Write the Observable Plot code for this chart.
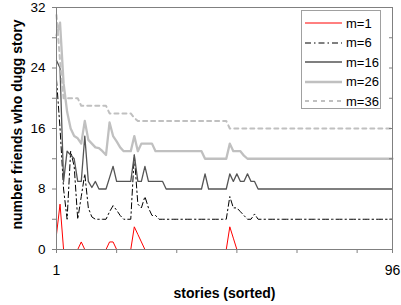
<!DOCTYPE html>
<html>
<head>
<meta charset="utf-8">
<script src="https://cdn.jsdelivr.net/npm/d3@7"></script>
<script src="https://cdn.jsdelivr.net/npm/@observablehq/plot@0.6"></script>
<style>
  body { margin: 0; background: white; }
  #wrap { position: relative; width: 401px; height: 305px; font-family: "Liberation Sans", Arial, sans-serif; }
  #legend { position: absolute; left: 301px; top: 10px; width: 80px; height: 99px; background: white; border: 1px solid #a0a0a0; box-sizing: border-box; }
  #legend .row { position: absolute; left: 3px; height: 14px; display: flex; align-items: center; font-size: 13px; }
  #legend svg { margin-right: 4px; }
</style>
</head>
<body>
<div id="wrap"></div>
<script>
// stories (x categories)
const stories = d3.range(1, 97);
const xTicks = [1, 18, 35, 52, 69, 86, 96];
const xTickLabels = [1, 96];
const yTicks = [0, 4, 8, 12, 16, 20, 24, 28, 32];
const yTickLabels = [0, 8, 16, 24, 32];

const seriesNames = ["m=1", "m=6", "m=16", "m=26", "m=36"];

const m1 = [
  2, 6, 0, 0, 0, 0, 0, 1, 0, 0, 0, 0,
  0, 0, 0, 1, 1, 0, 0, 0, 0, 0, 3, 2,
  1, 0, 0, 0, 0, 0, 0, 0, 0, 0, 0, 0,
  0, 0, 0, 0, 0, 0, 0, 0, 0, 0, 0, 0,
  0, 3, 1.5, 0, 0, 0, 0, 0, 0, 0, 0, 0,
  0, 0, 0, 0, 0, 0, 0, 0, 0, 0, 0, 0,
  0, 0, 0, 0, 0, 0, 0, 0, 0, 0, 0, 0,
  0, 0, 0, 0, 0, 0, 0, 0, 0, 0, 0, 0
];
const m6 = [
  22.5, 16, 8, 4, 13, 11, 4, 7, 10, 5.5, 4.3, 4,
  4, 4, 4, 5, 5.8, 5.2, 4.5, 4, 4, 4, 12.5, 6,
  5.5, 7, 5.5, 4.5, 4.5, 4, 4, 4, 4, 4, 4, 4,
  4, 4, 4, 4, 4, 4, 4, 4, 4, 4, 4, 4,
  4, 7, 5.5, 5.5, 5, 4.5, 4, 4, 4.7, 4, 4, 4,
  4, 4, 4, 4, 4, 4, 4, 4, 4, 4, 4, 4,
  4, 4, 4, 4, 4, 4, 4, 4, 4, 4, 4, 4,
  4, 4, 4, 4, 4, 4, 4, 4, 4, 4, 4, 4
];
const m16 = [
  25, 24, 9, 13, 12.5, 12, 9, 9, 15, 9, 8.2, 9,
  8, 8, 8, 9.5, 11, 9, 9, 9, 9, 9, 12.5, 9,
  9, 11, 9, 9, 9, 9, 9, 8, 8, 8, 8, 8,
  8, 8, 8, 8, 8, 8, 10, 8, 8, 8, 8, 8,
  8, 10, 9, 10, 9, 9, 10, 9, 9, 8, 8, 8,
  8, 8, 8, 8, 8, 8, 8, 8, 8, 8, 8, 8,
  8, 8, 8, 8, 8, 8, 8, 8, 8, 8, 8, 8,
  8, 8, 8, 8, 8, 8, 8, 8, 8, 8, 8, 8
];
const m26 = [
  28.3, 30, 22, 18.2, 16, 15, 14.7, 14, 17, 14.5, 14, 13.5,
  13.4, 13, 12.5, 16.8, 15, 14.3, 13.5, 13, 13, 13, 15, 13,
  14, 14, 14, 14, 13, 13, 13, 13, 13, 13, 13, 13,
  13, 13, 13, 13, 13, 13, 12, 12, 12, 12, 12, 12,
  12, 14, 13, 13, 13, 12.4, 12, 12, 12, 12, 12, 12,
  12, 12, 12, 12, 12, 12, 12, 12, 12, 12, 12, 12,
  12, 12, 12, 12, 12, 12, 12, 12, 12, 12, 12, 12,
  12, 12, 12, 12, 12, 12, 12, 12, 12, 12, 12, 12
];
const m36 = [
  31, 25, 20, 20, 20, 20, 20, 19, 19, 19, 19, 19,
  19, 19, 19, 18, 18, 18, 18, 18, 18, 18, 17.4, 17,
  17, 17, 17, 17, 17, 17, 17, 17, 17, 17, 17, 17,
  17, 17, 17, 17, 17, 17, 17, 17, 17, 17, 17, 17,
  17, 16, 16, 16, 16, 16, 16, 16, 16, 16, 16, 16,
  16, 16, 16, 16, 16, 16, 16, 16, 16, 16, 16, 16,
  16, 16, 16, 16, 16, 16, 16, 16, 16, 16, 16, 16,
  16, 16, 16, 16, 16, 16, 16, 16, 16, 16, 16, 16
];

const seriesValues = [m1, m6, m16, m26, m36];
const seriesStyles = [
  {stroke: "#ff0000", strokeWidth: 1},
  {stroke: "#000000", strokeWidth: 1, strokeDasharray: "6,3,1.5,3"},
  {stroke: "#555555", strokeWidth: 1.3},
  {stroke: "#c0c0c0", strokeWidth: 2.3},
  {stroke: "#c0c0c0", strokeWidth: 2, strokeDasharray: "4,4"}
];

const lineMarks = seriesValues.map((vals, k) =>
  Plot.line(stories.map((s, i) => ({x: s, y: vals[i]})), {x: "x", y: "y", ...seriesStyles[k]})
);

const chart = Plot.plot({
  width: 401,
  height: 305,
  marginLeft: 56,
  marginRight: 9,
  marginTop: 7,
  marginBottom: 56,
  style: {fontFamily: "'Liberation Sans', Arial, sans-serif", fontSize: "13px", color: "black", background: "white", overflow: "visible"},
  x: {domain: [1, 96], label: null},
  y: {domain: [0, 32], label: null},
  marks: [
    ...lineMarks,
    Plot.frame({stroke: "#808080"}),
    Plot.axisX({ticks: xTicks, tickSize: 4, stroke: "#808080", tickFormat: () => ""}),
    Plot.axisX({ticks: xTickLabels, tickSize: 0, tickPadding: 16, fontSize: 14}),
    Plot.axisY({ticks: yTicks, tickSize: 4, stroke: "#808080", tickFormat: () => ""}),
    Plot.axisY({ticks: yTickLabels, tickSize: 0, tickPadding: 11, fontSize: 13.5}),
    Plot.axisY({anchor: "right", ticks: yTicks, tickSize: 4, dx: -4, stroke: "#808080", tickFormat: () => ""}),
    Plot.text(["number friends who dugg story"], {text: d => d, frameAnchor: "left", textAnchor: "middle", lineAnchor: "middle", dx: -39, dy: -4, rotate: -90, fontWeight: "bold", fontSize: 14}),
    Plot.text(["stories (sorted)"], {text: d => d, frameAnchor: "bottom", textAnchor: "middle", lineAnchor: "middle", dy: 44, fontWeight: "bold", fontSize: 14})
  ]
});

const wrap = document.getElementById("wrap");
wrap.appendChild(chart);

// legend
const legend = document.createElement("div");
legend.id = "legend";
seriesNames.forEach((name, k) => {
  const row = document.createElement("div");
  row.className = "row";
  row.style.top = (5 + k * 19.5) + "px";
  const st = seriesStyles[k];
  row.innerHTML = `<svg width="37" height="6"><line x1="0" y1="3" x2="37" y2="3" stroke="${st.stroke}" stroke-width="${st.strokeWidth}" ${st.strokeDasharray ? `stroke-dasharray="${st.strokeDasharray}"` : ""}/></svg><span>${name}</span>`;
  legend.appendChild(row);
});
wrap.appendChild(legend);
</script>
</body>
</html>
